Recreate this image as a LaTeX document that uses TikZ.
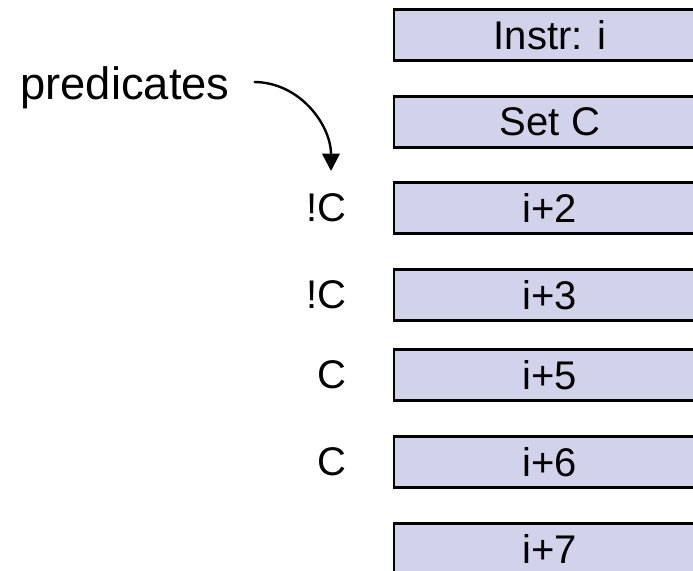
\documentclass[tikz,border=0pt]{standalone}
\usepackage{fontspec}
\setmainfont{Liberation Sans}
\usetikzlibrary{arrows.meta}

\definecolor{boxfill}{RGB}{210,210,234}

\tikzset{
  instr/.style={draw=black, fill=boxfill, minimum width=234pt, minimum height=38pt,
    inner sep=0pt, font=\fontsize{30}{36}\selectfont},
  pred/.style={anchor=east, inner sep=0pt, font=\fontsize{30}{36}\selectfont}
}

\begin{document}
\begin{tikzpicture}[x=0.75pt,y=0.75pt,yscale=-1,xscale=1,line width=1.8pt]
\useasboundingbox (0,0) rectangle (693,571);
\clip (0,0) rectangle (693,571);

% Instruction slots
\node[instr] (i0) at (550,35) {Instr: i};
\node[instr] (i1) at (550,122) {Set C};
\node[instr] (i2) at (550,208) {i+2};
\node[instr] (i3) at (550,295) {i+3};
\node[instr] (i5) at (550,375) {i+5};
\node[instr] (i6) at (550,462) {i+6};
\node[instr] (i7) at (550,549) {i+7};

% Predicate guards
\node[pred] (p2) at (348,208) {!C};
\node[pred] (p3) at (348,295) {!C};
\node[pred] (p5) at (348,375) {C};
\node[pred] (p6) at (348,462) {C};

% Callout
\node[inner sep=0pt, font=\fontsize{34}{40}\selectfont] (predicates) at (125,88) {predicates};
\coordinate (ptip) at (331,171);
\draw[-{Triangle[length=13pt,width=13pt]}] ([shift={(23,-6)}]predicates.east) to[out=0,in=270] (ptip);

\end{tikzpicture}
\end{document}
